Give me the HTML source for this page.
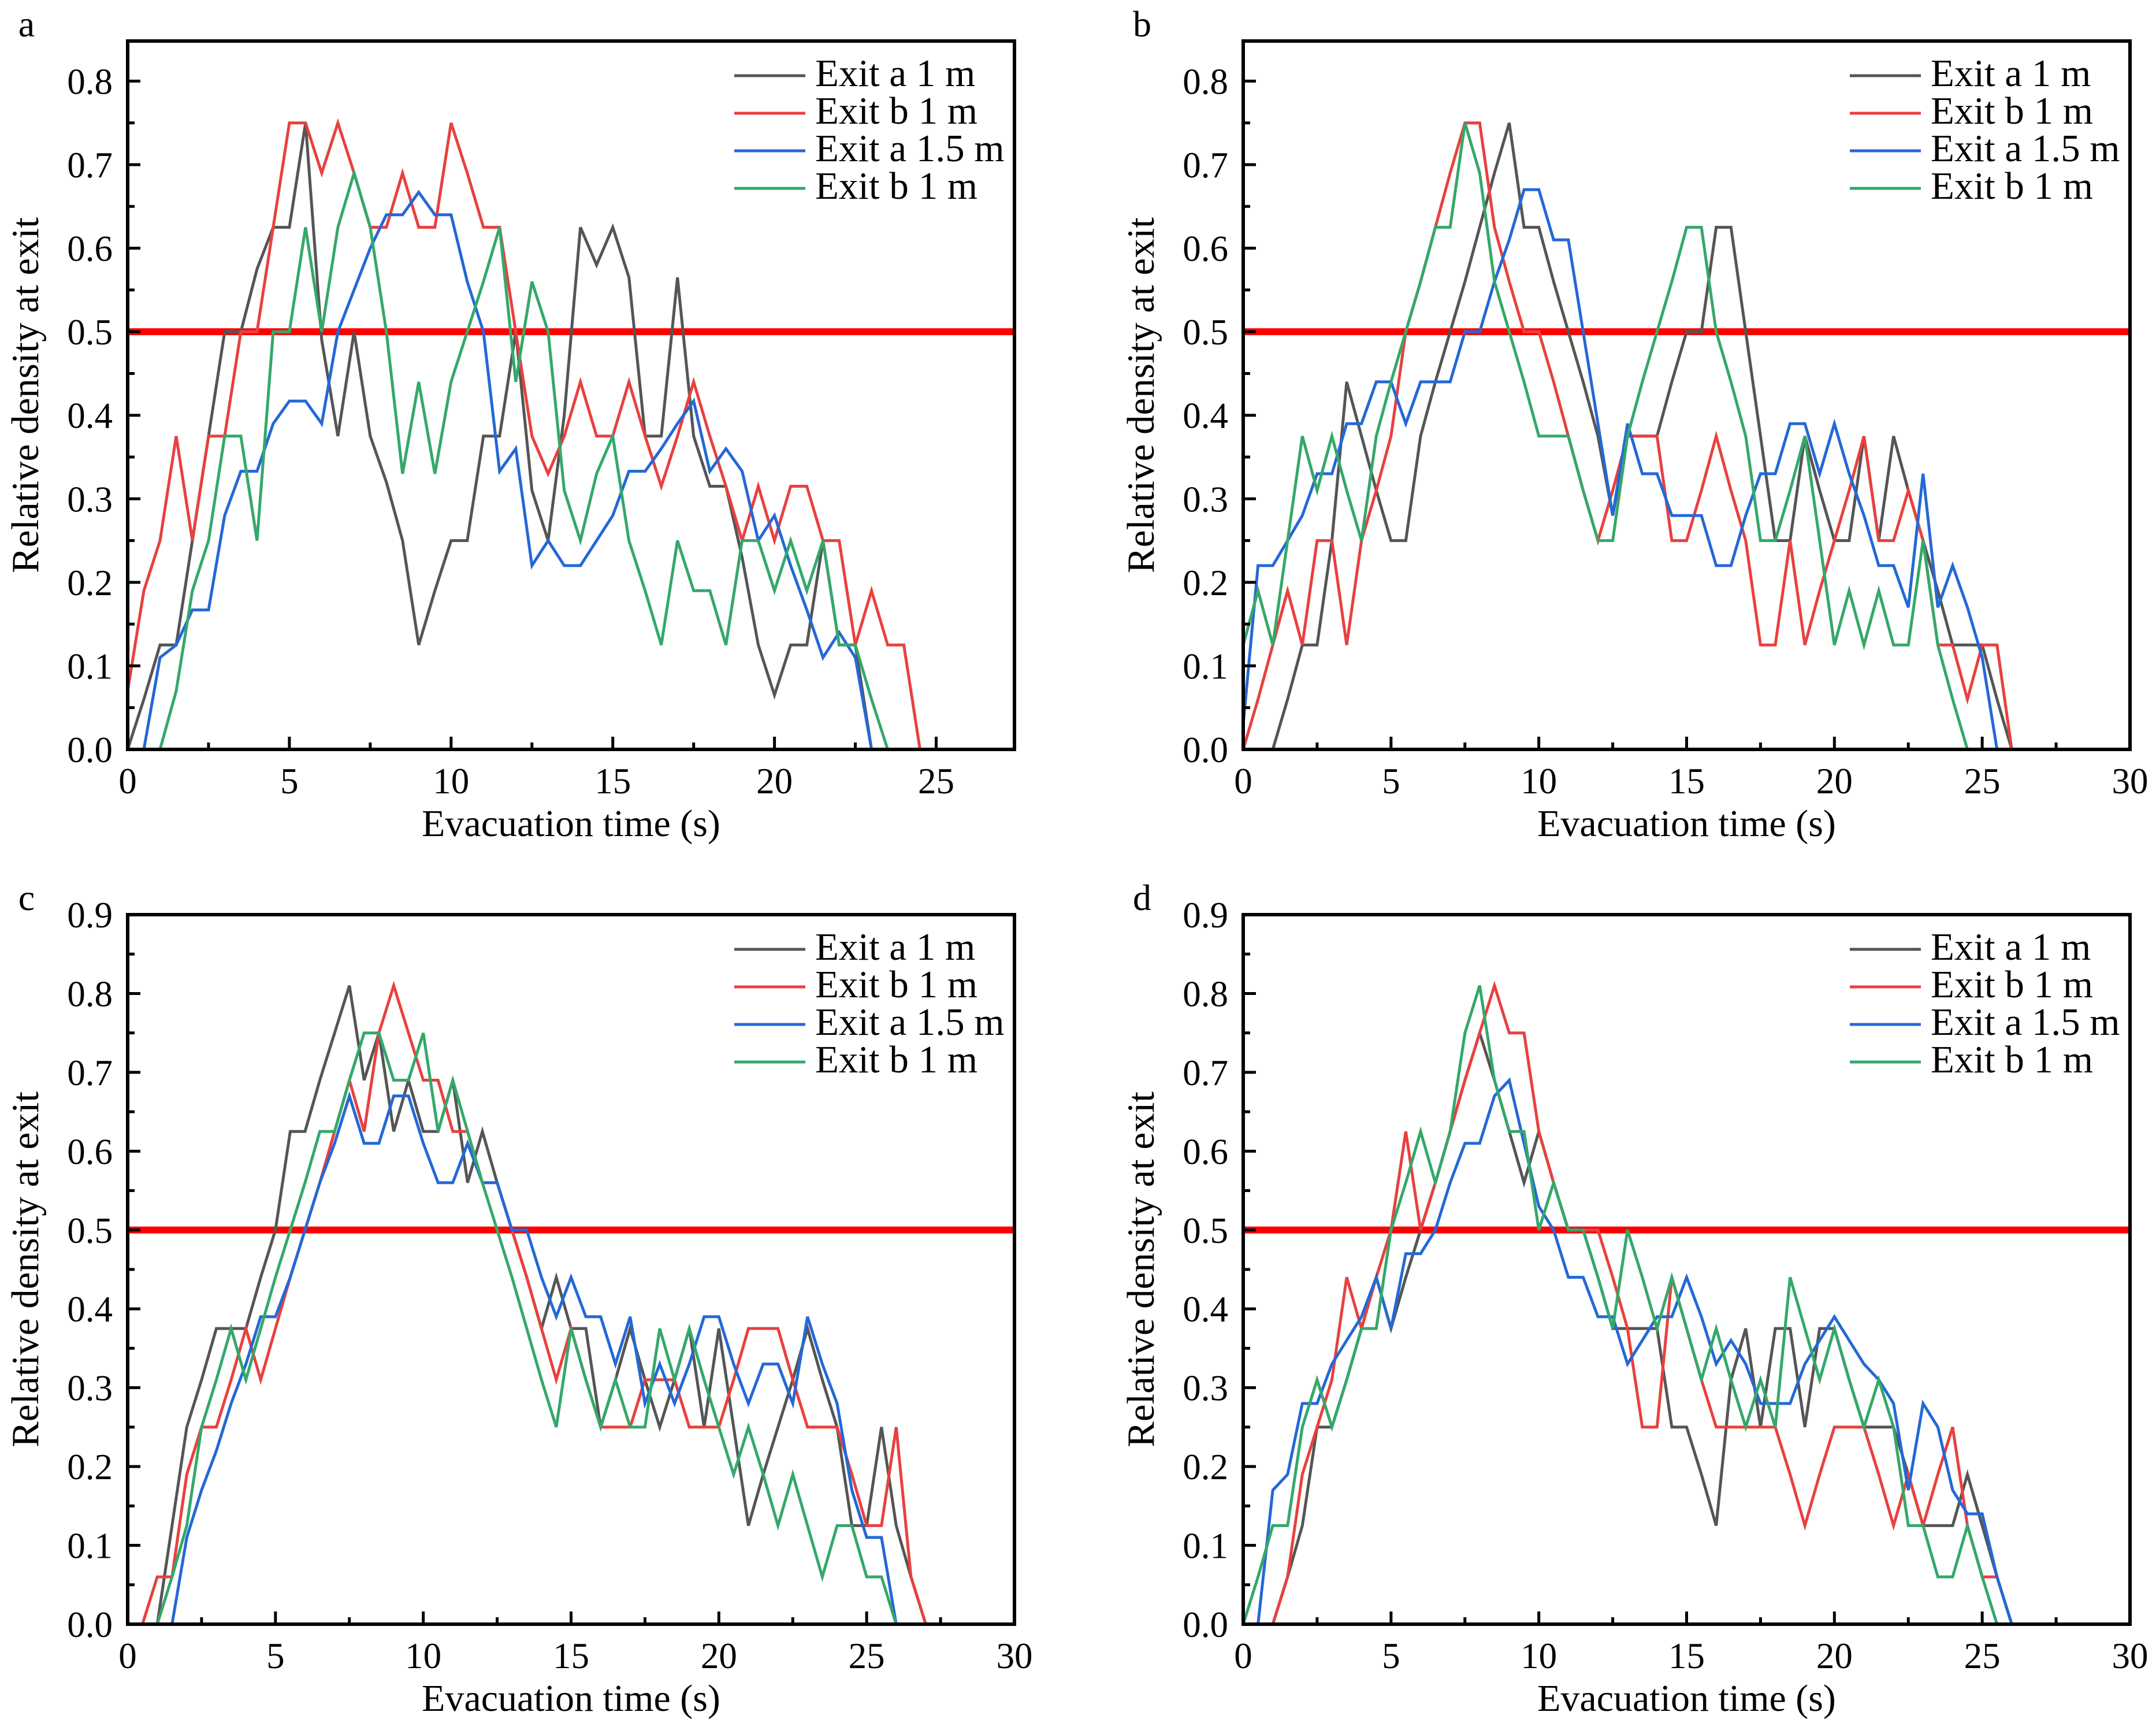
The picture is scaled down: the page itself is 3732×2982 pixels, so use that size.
<!DOCTYPE html>
<html><head><meta charset="utf-8">
<style>
html,body{margin:0;padding:0;background:#fff;}
svg{display:block;font-family:"Liberation Serif",serif;}
</style></head>
<body>
<svg id="fig" width="3732" height="2982" viewBox="0 0 3732 2982" xmlns="http://www.w3.org/2000/svg"></svg>
<script>
// ---- Data (time starts, step 0.5 s) ----
const legendLabels = ["Exit a 1 m","Exit b 1 m","Exit a 1.5 m","Exit b 1 m"];
const seriesColors = ["#555555","#e8413f","#2468d6","#34a86a"];

const aStart = [0, 0, 0.5, 1];
const aBlack = [0,.06,.125,.125,.25,.375,.5,.5,.575,.625,.625,.75,.49,.375,.5,.375,.32,.25,.125,.19,.25,.25,.375,.375,.5,.31,.25,.4,.625,.58,.625,.565,.375,.375,.565,.375,.315,.315,.23,.125,.065,.125,.125,.25,.125,.125,0,0,0,0];
const aRed = [.07,.19,.25,.375,.25,.375,.375,.5,.5,.625,.75,.75,.69,.75,.69,.625,.625,.69,.625,.625,.75,.69,.625,.625,.5,.375,.33,.375,.44,.375,.375,.44,.375,.315,.375,.44,.375,.315,.25,.315,.25,.315,.315,.25,.25,.125,.19,.125,.125,0];
const aBlue = [0,.11,.125,.167,.167,.28,.333,.333,.39,.417,.417,.39,.5,.55,.6,.64,.64,.667,.64,.64,.56,.5,.333,.36,.22,.25,.22,.22,.25,.28,.333,.333,.36,.39,.417,.333,.36,.333,.25,.28,.22,.167,.11,.14,.11,0];
const aGreen = [0,.07,.19,.25,.375,.375,.25,.5,.5,.625,.5,.625,.69,.625,.5,.33,.44,.33,.44,.5,.56,.625,.44,.56,.5,.31,.25,.33,.375,.25,.19,.125,.25,.19,.19,.125,.25,.25,.19,.25,.19,.25,.125,.125,.06,0,0,0];

const bStart = [1, 0, 0, 0];
const bBlack = [0,.06,.125,.125,.25,.44,.375,.31,.25,.25,.375,.44,.5,.56,.625,.69,.75,.625,.625,.56,.5,.44,.375,.28,.375,.375,.375,.44,.5,.5,.625,.625,.5,.375,.25,.25,.375,.31,.25,.25,.375,.25,.375,.31,.25,.19,.125,.125,.125,.06,0];
const bRed = [0,.06,.125,.19,.125,.25,.25,.125,.25,.31,.375,.5,.56,.625,.69,.75,.75,.625,.56,.5,.5,.44,.375,.31,.25,.31,.375,.375,.375,.25,.25,.31,.375,.31,.25,.125,.125,.25,.125,.19,.25,.31,.375,.25,.25,.31,.25,.125,.125,.06,.125,.125,0];
const bBlue = [.03,.22,.22,.25,.28,.33,.33,.39,.39,.44,.44,.39,.44,.44,.44,.5,.5,.56,.61,.67,.67,.61,.61,.5,.39,.28,.39,.33,.33,.28,.28,.28,.22,.22,.28,.33,.33,.39,.39,.33,.39,.33,.28,.22,.22,.17,.33,.17,.22,.17,.11,0];
const bGreen = [.125,.19,.125,.25,.375,.31,.375,.31,.25,.375,.44,.5,.56,.625,.625,.75,.69,.56,.5,.44,.375,.375,.375,.31,.25,.25,.375,.44,.5,.56,.625,.625,.5,.44,.375,.25,.25,.31,.375,.25,.125,.19,.125,.19,.125,.125,.25,.125,.06,0];

const cStart = [1, 0.5, 1.5, 1];
const cBlack = [0,.125,.25,.31,.375,.375,.375,.44,.5,.625,.625,.69,.75,.81,.69,.75,.625,.69,.625,.625,.69,.56,.625,.56,.5,.44,.375,.44,.375,.375,.25,.31,.375,.31,.25,.31,.375,.25,.375,.25,.125,.19,.25,.31,.375,.31,.25,.125,.125,.25,.125,.06,0];
const cRed = [0,.06,.06,.19,.25,.25,.31,.375,.31,.375,.44,.5,.56,.625,.69,.625,.75,.81,.75,.69,.69,.625,.625,.56,.56,.5,.44,.375,.31,.375,.31,.25,.25,.25,.31,.31,.31,.25,.25,.25,.31,.375,.375,.375,.31,.25,.25,.25,.19,.125,.125,.25,.06,0];
const cBlue = [0,.11,.17,.22,.28,.33,.39,.39,.44,.5,.56,.61,.67,.61,.61,.67,.67,.61,.56,.56,.61,.56,.56,.5,.5,.44,.39,.44,.39,.39,.33,.39,.28,.33,.28,.33,.39,.39,.33,.28,.33,.33,.28,.39,.33,.28,.17,.11,.11,0];
const cGreen = [0,.06,.125,.25,.31,.375,.31,.375,.44,.5,.56,.625,.625,.69,.75,.75,.69,.69,.75,.625,.69,.625,.56,.5,.44,.375,.31,.25,.375,.31,.25,.31,.25,.25,.375,.31,.375,.31,.25,.19,.25,.19,.125,.19,.125,.06,.125,.125,.06,.06,0];

const dStart = [1, 1, 0.5, 0];
const dBlack = [0,.06,.125,.25,.25,.31,.375,.44,.375,.44,.5,.56,.625,.69,.75,.69,.625,.56,.625,.56,.5,.5,.44,.375,.375,.375,.375,.25,.25,.19,.125,.31,.375,.25,.375,.375,.25,.375,.375,.31,.25,.25,.25,.19,.125,.125,.125,.19,.125,.06,0];
const dRed = [0,.06,.19,.25,.31,.44,.375,.44,.5,.625,.5,.56,.625,.69,.75,.81,.75,.75,.625,.56,.5,.5,.5,.44,.375,.25,.25,.44,.375,.31,.25,.25,.25,.25,.25,.19,.125,.19,.25,.25,.25,.19,.125,.19,.125,.19,.25,.125,.06,.06,0];
const dBlue = [0,.17,.19,.28,.28,.33,.36,.39,.44,.375,.47,.47,.5,.56,.61,.61,.67,.69,.61,.53,.5,.44,.44,.39,.39,.33,.36,.39,.39,.44,.39,.33,.36,.33,.28,.28,.28,.33,.36,.39,.36,.33,.31,.28,.17,.28,.25,.17,.14,.14,.06,0];
const dGreen = [0,.06,.125,.125,.25,.31,.25,.31,.375,.375,.5,.56,.625,.56,.625,.75,.81,.69,.625,.625,.5,.56,.5,.5,.44,.375,.5,.44,.375,.44,.375,.31,.375,.31,.25,.31,.25,.44,.375,.31,.375,.31,.25,.31,.25,.125,.125,.06,.06,.125,.06,0];

const xTicksA = [0,5,10,15,20,25];
const xTicks30 = [0,5,10,15,20,25,30];
const yTicks08 = ["0.0","0.1","0.2","0.3","0.4","0.5","0.6","0.7","0.8"];
const yTicks09 = ["0.0","0.1","0.2","0.3","0.4","0.5","0.6","0.7","0.8","0.9"];
const thresholdValue = 0.5;

const NS = "http://www.w3.org/2000/svg";
const svg = document.getElementById("fig");
function mk(tag, attrs, parent){
  const e = document.createElementNS(NS, tag);
  for (const k in attrs) e.setAttribute(k, attrs[k]);
  (parent||svg).appendChild(e);
  return e;
}

function panel(cfg){
  const g = mk("g", {});
  
  
  const L=cfg.left, R=cfg.right, T=cfg.top, B=cfg.bottom;
  const sx = v => L + (v - 0) / (cfg.xmax - 0) * (R - L);
  const sy = v => B - v / cfg.ymax * (B - T);
  const th = mk("line", {x1:L, x2:R, y1:sy(thresholdValue), y2:sy(thresholdValue), stroke:"#ff0000", "stroke-width":12}, g);
  
  
  const names = ["exit-a-1m","exit-b-1m","exit-a-1-5m","exit-b-1m-green"];
  cfg.series.forEach((ys, si) => {
    const st = cfg.starts[si];
    const pts = ys.map((v,i) => sx(st + i*0.5).toFixed(1) + "," + sy(v).toFixed(1)).join(" ");
    const pl = mk("polyline", {points:pts, fill:"none", stroke:seriesColors[si], "stroke-width":5, "stroke-linejoin":"miter"}, g);
    
    
  });
  const fr = mk("rect", {x:L, y:T, width:R-L, height:B-T, fill:"none", stroke:"#000", "stroke-width":6}, g);
  
  
  cfg.xTicks.forEach((t,i) => {
    const x = sx(t);
    mk("line", {x1:x, x2:x, y1:B, y2:B-22, stroke:"#000", "stroke-width":5}, g);
    if (t + 2.5 <= cfg.xmax) { const xm = sx(t+2.5); mk("line", {x1:xm, x2:xm, y1:B, y2:B-12, stroke:"#000", "stroke-width":5}, g); }
    const tx = mk("text", {x:x, y:B+76, "font-size":63, "text-anchor":"middle", fill:"#000"}, g);
    tx.textContent = t;
    
    
  });
  cfg.yTicks.forEach((lab,i) => {
    const v = parseFloat(lab);
    const y = sy(v);
    mk("line", {x1:L, x2:L+22, y1:y, y2:y, stroke:"#000", "stroke-width":5}, g);
    if (v + 0.05 <= cfg.ymax) { const ym = sy(v+0.05); mk("line", {x1:L, x2:L+12, y1:ym, y2:ym, stroke:"#000", "stroke-width":5}, g); }
    const tx = mk("text", {x:L-26, y:y+22, "font-size":63, "text-anchor":"end", fill:"#000"}, g);
    tx.textContent = lab;
    
    
  });
  const xt = mk("text", {x:(L+R)/2, y:B+150, "font-size":66, "text-anchor":"middle", fill:"#000"}, g);
  xt.textContent = "Evacuation time (s)";
  
  
  const yc = (T+B)/2;
  const yx = L - 155;
  const yt = mk("text", {x:yx, y:yc, "font-size":67, "text-anchor":"middle", fill:"#000", transform:"rotate(-90 "+yx+" "+yc+")"}, g);
  yt.textContent = "Relative density at exit";
  
  
  const pl = mk("text", {x:L-175, y:T-8, "font-size":64, "text-anchor":"middle", fill:"#000"}, g);
  pl.textContent = cfg.letter;
  
  
  const lg = mk("g", {}, g);
  
  
  legendLabels.forEach((lab, i) => {
    const y = T + 60 + i*65;
    const lx = R - 485;
    mk("line", {x1:lx, x2:lx+123, y1:y, y2:y, stroke:seriesColors[i], "stroke-width":5}, lg);
    const t = mk("text", {x:lx+140, y:y+18, "font-size":67, fill:"#000"}, lg);
    t.textContent = lab;
    
    
  });
}

panel({letter:"a", left:221, right:1756, top:71, bottom:1297, xmax:27.42, ymax:0.848, xTicks:xTicksA, yTicks:yTicks08, starts:aStart, series:[aBlack,aRed,aBlue,aGreen]});
panel({letter:"b", left:2152, right:3687, top:71, bottom:1297, xmax:30, ymax:0.848, xTicks:xTicks30, yTicks:yTicks08, starts:bStart, series:[bBlack,bRed,bBlue,bGreen]});
panel({letter:"c", left:221, right:1756, top:1583, bottom:2811, xmax:30, ymax:0.9, xTicks:xTicks30, yTicks:yTicks09, starts:cStart, series:[cBlack,cRed,cBlue,cGreen]});
panel({letter:"d", left:2152, right:3687, top:1583, bottom:2811, xmax:30, ymax:0.9, xTicks:xTicks30, yTicks:yTicks09, starts:dStart, series:[dBlack,dRed,dBlue,dGreen]});
</script>
</body></html>
